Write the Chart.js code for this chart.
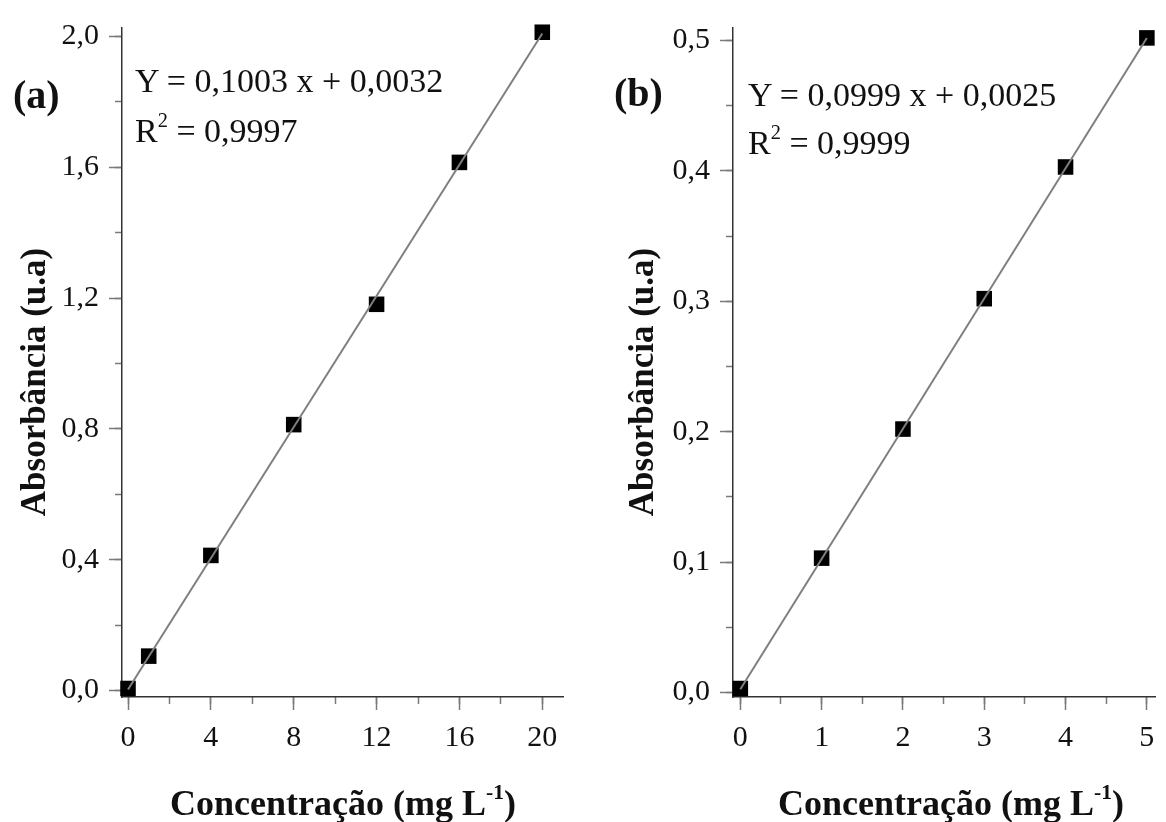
<!DOCTYPE html>
<html lang="pt-BR">
<head>
<meta charset="utf-8">
<title>Curvas de calibração</title>
<script src="https://cdn.jsdelivr.net/npm/chart.js@4.4.1/dist/chart.umd.min.js"></script>
<style>
  html, body { margin: 0; padding: 0; background: #fff; }
  body {
    width: 1166px; height: 822px; position: relative; overflow: hidden;
    font-family: "Liberation Serif", "Times New Roman", serif; color: #111;
  }
  canvas { position: absolute; top: 0; }
  #graficoA { left: 0; }
  #graficoB { left: 580px; }
  .txt { position: absolute; white-space: nowrap; line-height: 1; z-index: 2; }
  .eq { font-size: 34px; }
  .letra { font-size: 40px; font-weight: bold; }
  .tituloX { font-size: 36px; font-weight: bold; transform: translateX(-50%); }
  .tituloY { font-size: 35px; font-weight: bold; transform: translate(-50%, -50%) rotate(-90deg); }
  sup { font-size: 0.6em; line-height: 0; vertical-align: 0.75em; }
</style>
</head>
<body>
<canvas id="graficoA" width="580" height="822"></canvas>
<canvas id="graficoB" width="586" height="822"></canvas>

<div class="txt letra" style="left:13px; top:75px;">(a)</div>
<div class="txt eq" style="left:135px; top:64px;">Y = 0,1003 x + 0,0032</div>
<div class="txt eq" style="left:135px; top:114px;">R<sup>2</sup> = 0,9997</div>
<div class="txt tituloY" style="left:33px; top:382px;">Absorbância (u.a)</div>
<div class="txt tituloX" style="left:343px; top:785px;">Concentração (mg L<sup>-1</sup>)</div>

<div class="txt letra" style="left:614px; top:73px;">(b)</div>
<div class="txt eq" style="left:748px; top:78px;">Y = 0,0999 x + 0,0025</div>
<div class="txt eq" style="left:748px; top:126px;">R<sup>2</sup> = 0,9999</div>
<div class="txt tituloY" style="left:641px; top:382px;">Absorbância (u.a)</div>
<div class="txt tituloX" style="left:951px; top:785px;">Concentração (mg L<sup>-1</sup>)</div>

<script>
// (a) curva de 0 a 20 mg/L
const concA = [0, 1, 4, 8, 12, 16, 20];
const absA = [0.006, 0.105, 0.413, 0.813, 1.181, 1.615, 2.013];
const retaXA = [0, 20];
const retaYA = [0.0032, 2.0092];
const ticksXA = [0, 4, 8, 12, 16, 20];
const rotulosXA = ['0', '4', '8', '12', '16', '20'];
const menoresXA = [0, 2, 4, 6, 8, 10, 12, 14, 16, 18, 20];
const ticksYA = [0, 0.4, 0.8, 1.2, 1.6, 2.0];
const rotulosYA = ['0,0', '0,4', '0,8', '1,2', '1,6', '2,0'];
const menoresYA = [0, 0.2, 0.4, 0.6, 0.8, 1.0, 1.2, 1.4, 1.6, 1.8, 2.0];

// (b) curva de 0 a 5 mg/L
const concB = [0, 1, 2, 3, 4, 5];
const absB = [0.003, 0.103, 0.202, 0.302, 0.403, 0.502];
const retaXB = [0, 5];
const retaYB = [0.0025, 0.502];
const ticksXB = [0, 1, 2, 3, 4, 5];
const rotulosXB = ['0', '1', '2', '3', '4', '5'];
const menoresXB = [0, 0.5, 1, 1.5, 2, 2.5, 3, 3.5, 4, 4.5, 5];
const ticksYB = [0, 0.1, 0.2, 0.3, 0.4, 0.5];
const rotulosYB = ['0,0', '0,1', '0,2', '0,3', '0,4', '0,5'];
const menoresYB = [0, 0.05, 0.1, 0.15, 0.2, 0.25, 0.3, 0.35, 0.4, 0.45, 0.5];

const fonte = "'Liberation Serif', 'Times New Roman', serif";
const corTick = '#7a7a7a';

function eixo(pos, min, max, valores, rotulos, tamanho) {
  return {
    type: 'linear',
    position: pos,
    min: min,
    max: max,
    afterBuildTicks: s => { s.ticks = valores.map(v => ({ value: v })); },
    afterFit: s => { if (pos === 'left') s.width = tamanho; else s.height = tamanho; },
    grid: { drawOnChartArea: false, drawTicks: true, tickLength: 13, tickColor: corTick, tickWidth: 1.5 },
    border: { display: true, color: '#333', width: 1.5 },
    ticks: {
      autoSkip: false, maxRotation: 0, padding: 10, color: '#111',
      font: { family: fonte, size: 30 },
      callback: (v, i) => rotulos[i]
    }
  };
}

// ticks menores: eixo sem largura, só com as marcas curtas
function eixoMenor(pos, min, max, valores) {
  return {
    type: 'linear',
    position: pos,
    min: min,
    max: max,
    weight: -1,
    afterBuildTicks: s => { s.ticks = valores.map(v => ({ value: v })); },
    afterFit: s => { if (pos === 'left') s.width = 0; else s.height = 0; },
    grid: { drawOnChartArea: false, drawTicks: true, tickLength: 7, tickColor: corTick, tickWidth: 1.5 },
    border: { display: false },
    ticks: { display: false }
  };
}

function montarGrafico(id, d) {
  new Chart(document.getElementById(id), {
    type: 'scatter',
    data: {
      datasets: [
        {
          // reta de ajuste, por cima dos pontos
          data: d.retaX.map((x, i) => ({ x: x, y: d.retaY[i] })),
          showLine: true,
          borderColor: '#7f7f7f',
          borderWidth: 2,
          pointRadius: 0,
          clip: false
        },
        {
          data: d.x.map((x, i) => ({ x: x, y: d.y[i] })),
          pointStyle: 'rect',
          pointRadius: 11,
          backgroundColor: '#000',
          borderWidth: 0,
          clip: false
        }
      ]
    },
    options: {
      responsive: false,
      animation: false,
      events: [],
      layout: { padding: { top: 21, right: d.padDir, bottom: 0, left: 0 } },
      plugins: { legend: { display: false }, tooltip: { enabled: false } },
      scales: {
        x: eixo('bottom', d.xMin, d.xMax, d.ticksX, d.rotulosX, 125),
        xMenor: eixoMenor('bottom', d.xMin, d.xMax, d.menoresX),
        y: eixo('left', d.yMin, d.yMax, d.ticksY, d.rotulosY, d.largY),
        yMenor: eixoMenor('left', d.yMin, d.yMax, d.menoresY)
      }
    }
  });
}

montarGrafico('graficoA', {
  x: concA, y: absA, retaX: retaXA, retaY: retaYA,
  ticksX: ticksXA, rotulosX: rotulosXA, menoresX: menoresXA,
  ticksY: ticksYA, rotulosY: rotulosYA, menoresY: menoresYA,
  xMin: -0.29, xMax: 21, yMin: -0.02, yMax: 2.026,
  largY: 122, padDir: 17
});

montarGrafico('graficoB', {
  x: concB, y: absB, retaX: retaXB, retaY: retaYB,
  ticksX: ticksXB, rotulosX: rotulosXB, menoresX: menoresXB,
  ticksY: ticksYB, rotulosY: rotulosYB, menoresY: menoresYB,
  xMin: -0.09, xMax: 5.1, yMin: -0.0035, yMax: 0.5096,
  largY: 153, padDir: 0
});
</script>
</body>
</html>
